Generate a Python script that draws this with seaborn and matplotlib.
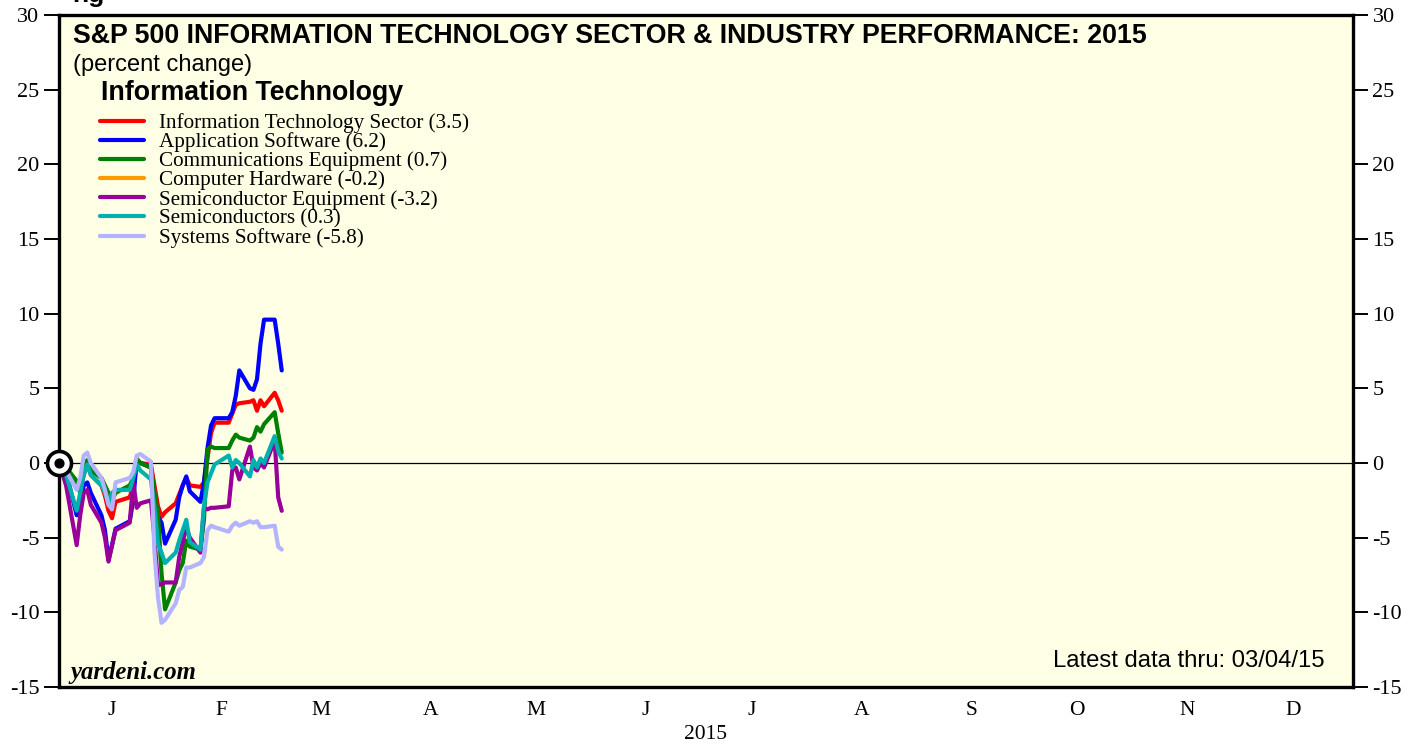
import numpy as np
import pandas as pd
import matplotlib
matplotlib.use("Agg")
import matplotlib.pyplot as plt
from matplotlib.lines import Line2D
import seaborn as sns

# trading days, Dec 31 2014 (base) through Mar 4 2015
dates = ["2014-12-31", "2015-01-02", "2015-01-05", "2015-01-06", "2015-01-07", "2015-01-08",
         "2015-01-09", "2015-01-12", "2015-01-13", "2015-01-14", "2015-01-15", "2015-01-16",
         "2015-01-20", "2015-01-21", "2015-01-22", "2015-01-23", "2015-01-26", "2015-01-27",
         "2015-01-28", "2015-01-29", "2015-01-30", "2015-02-02", "2015-02-03", "2015-02-04",
         "2015-02-05", "2015-02-06", "2015-02-09", "2015-02-10", "2015-02-11", "2015-02-12",
         "2015-02-13", "2015-02-17", "2015-02-18", "2015-02-19", "2015-02-20", "2015-02-23",
         "2015-02-24", "2015-02-25", "2015-02-26", "2015-02-27", "2015-03-02", "2015-03-03",
         "2015-03-04"]

it_sector = [0, -0.5, -1.5, -1.8, -0.8, 0.0, -0.8, -1.5, -2.2, -3.2, -3.7, -2.6, -2.3, -1.5,
             0.2, 0.0, -0.1, -1.5, -2.9, -3.6, -3.3, -2.7, -2.1, -1.5, -1.0, -1.5, -1.6, -1.3,
             0.3, 2.0, 2.7, 2.7, 3.3, 3.9, 4.0, 4.1, 4.2, 3.5, 4.2, 3.8, 4.7, 4.2, 3.5]
app_software = [0, -0.6, -3.5, -2.5, -1.5, -1.3, -2.0, -3.5, -4.5, -6.5, -5.5, -4.4, -3.9, -2.5,
                0.2, 0.0, -0.3, -2.5, -3.6, -4.0, -5.4, -3.8, -2.3, -1.5, -0.9, -1.9, -2.6, -1.3,
                1.0, 2.5, 3.0, 3.0, 3.4, 4.5, 6.2, 5.0, 4.9, 5.6, 8.0, 9.6, 9.6, 8.0, 6.2]
comm_equipment = [0, -0.3, -1.2, -2.0, -0.5, 0.2, -0.5, -1.0, -1.5, -2.0, -2.5, -2.0, -1.5, -1.0,
                  0.3, 0.0, -0.3, -2.0, -3.4, -7.4, -9.8, -8.0, -7.2, -6.7, -5.2, -5.6, -5.8, -3.8,
                  0.9, 1.1, 1.0, 1.0, 1.5, 1.9, 1.7, 1.5, 1.7, 2.4, 2.1, 2.6, 3.4, 2.0, 0.7]
semi_equipment = [0, -1.5, -5.5, -3.5, -2.0, -1.8, -2.8, -4.0, -5.0, -6.6, -5.5, -4.5, -4.0, -1.3,
                  -3.0, -2.7, -2.5, -5.0, -8.2, -8.1, -8.0, -8.0, -6.3, -5.3, -4.3, -5.0, -6.0, -3.0,
                  -3.1, -3.0, -3.0, -2.9, -0.5, -0.3, -1.1, 1.1, -0.3, -0.5, 0.0, -0.3, 1.5, -2.3, -3.2]
semiconductors = [0, -0.8, -3.2, -2.0, -0.8, -0.1, -0.8, -1.5, -2.0, -2.7, -2.0, -1.8, -1.8, -1.0,
                  -0.1, -0.5, -1.1, -3.0, -5.4, -6.0, -6.7, -6.0, -5.2, -4.5, -3.8, -5.3, -5.8, -2.9,
                  -1.3, -0.7, -0.1, 0.5, -0.3, 0.2, 0.0, -0.9, 0.2, -0.3, 0.3, 0.0, 1.8, 0.8, 0.3]
sys_software = [0, -0.5, -1.8, -1.0, 0.5, 0.7, 0.0, -1.0, -1.8, -2.8, -3.1, -1.3, -1.0, -0.6,
                0.5, 0.6, 0.1, -6.0, -9.0, -10.7, -10.5, -9.4, -8.5, -8.3, -7.0, -7.0, -6.7, -6.3,
                -4.5, -4.2, -4.3, -4.6, -4.2, -4.0, -4.2, -3.9, -4.0, -3.9, -4.3, -4.3, -4.2, -5.6, -5.8]

labels = ["Information Technology Sector (3.5)", "Application Software (6.2)",
          "Communications Equipment (0.7)", "Computer Hardware (-0.2)",
          "Semiconductor Equipment (-3.2)", "Semiconductors (0.3)", "Systems Software (-5.8)"]
colors = ["#FF0000", "#0000FF", "#008000", "#FF9900", "#990099", "#00B0B0", "#B3B3FF"]
months = ["J", "F", "M", "A", "M", "J", "J", "A", "S", "O", "N", "D"]

df = pd.DataFrame({
    "date": pd.to_datetime(dates),
    labels[0]: it_sector,
    labels[1]: app_software,
    labels[2]: comm_equipment,
    labels[4]: semi_equipment,
    labels[5]: semiconductors,
    labels[6]: sys_software,
})
long = df.melt(id_vars="date", var_name="series", value_name="pct")
drawn = [l for l in labels if l in df.columns]
pal = dict(zip(labels, colors))

sns.set_theme(style="white")
plt.rcParams["font.family"] = ["Liberation Serif", "DejaVu Serif"]
plt.rcParams.update({"text.color": "black", "axes.labelcolor": "black",
                     "xtick.color": "black", "ytick.color": "black",
                     "axes.unicode_minus": False})
sans = ["Liberation Sans", "DejaVu Sans"]

fig = plt.figure(figsize=(14.19, 7.44), dpi=100)
ax = fig.add_axes([59 / 1419, 57 / 744, 1294 / 1419, 672 / 744])
ax.set_facecolor("#FFFFE6")

ax.axhline(0, color="black", lw=0.9, zorder=1)
sns.lineplot(data=long, x="date", y="pct", hue="series", hue_order=drawn, palette=pal,
             linewidth=3.0, legend=False, ax=ax, zorder=3)

# base point marker
ax.scatter(df["date"].iloc[:1], df[labels[0]].iloc[:1], s=300, facecolor="white",
           edgecolor="black", linewidth=2.6, zorder=6, clip_on=False)
ax.scatter(df["date"].iloc[:1], df[labels[0]].iloc[:1], s=40, color="black", zorder=7, clip_on=False)

ax.set_xlim(pd.Timestamp("2014-12-31"), pd.Timestamp("2016-01-01"))
ax.set_ylim(-15, 30)
ax.set_yticks(np.arange(-15, 31, 5))
ax.tick_params(axis="y", which="both", direction="out", length=11, width=1.4, color="black",
               left=True, right=True, labelleft=True, labelright=True, labelsize=16, pad=3)

month_starts = pd.date_range("2015-01-01", "2016-01-01", freq="MS")
mid_months = month_starts[:-1] + pd.Timedelta(days=14)
ax.set_xticks(month_starts)
ax.set_xticklabels([""] * len(month_starts))
ax.set_xticks(mid_months, minor=True)
ax.set_xticklabels(months, minor=True)
ax.tick_params(axis="x", which="major", direction="out", length=3, width=2.2, color="black")
ax.tick_params(axis="x", which="minor", length=0, labelsize=15.5, pad=10)
for i, t in enumerate(ax.xaxis.get_major_ticks()):
    if i in (0, 12):
        t.tick1line.set_markersize(13)
    elif i % 3 == 0:
        t.tick1line.set_markersize(6.5)
ax.set_xlabel("2015", fontsize=15.5, labelpad=4)
ax.set_ylabel("")

for s in ax.spines.values():
    s.set_linewidth(2.4)
    s.set_color("black")

# titles and notes
fig.text(73 / 1419, 1 - 36 / 744, "S&P 500 INFORMATION TECHNOLOGY SECTOR & INDUSTRY PERFORMANCE: 2015",
         family=sans, fontsize=19.3, fontweight="bold", va="center", ha="left")
fig.text(73 / 1419, 1 - 65 / 744, "(percent change)", family=sans, fontsize=17, va="center", ha="left")
fig.text(101 / 1419, 1 - 93 / 744, "Information Technology", family=sans, fontsize=19.3,
         fontweight="bold", va="center", ha="left")
fig.text(72 / 1419, 1 - 2 / 744, "ng", family=sans, fontsize=19, fontweight="bold",
         va="baseline", ha="left")
fig.text(70 / 1419, 1 - 679 / 744, "yardeni.com", fontsize=17.8, fontweight="bold", style="italic",
         va="baseline", ha="left")
fig.text(1325 / 1419, 1 - 667 / 744, "Latest data thru: 03/04/15", family=sans, fontsize=17.2,
         va="baseline", ha="right")

handles = [Line2D([0], [0], color=c, lw=3.0) for c in colors]
ax.legend(handles, labels, loc="upper left", bbox_to_anchor=(100 / 1419, 1 - 113 / 744),
          bbox_transform=fig.transFigure, frameon=False, fontsize=15.2, handlelength=2.1,
          handletextpad=0.7, labelspacing=-0.03, borderpad=0, borderaxespad=0)

fig.savefig("out.png", dpi=100)
